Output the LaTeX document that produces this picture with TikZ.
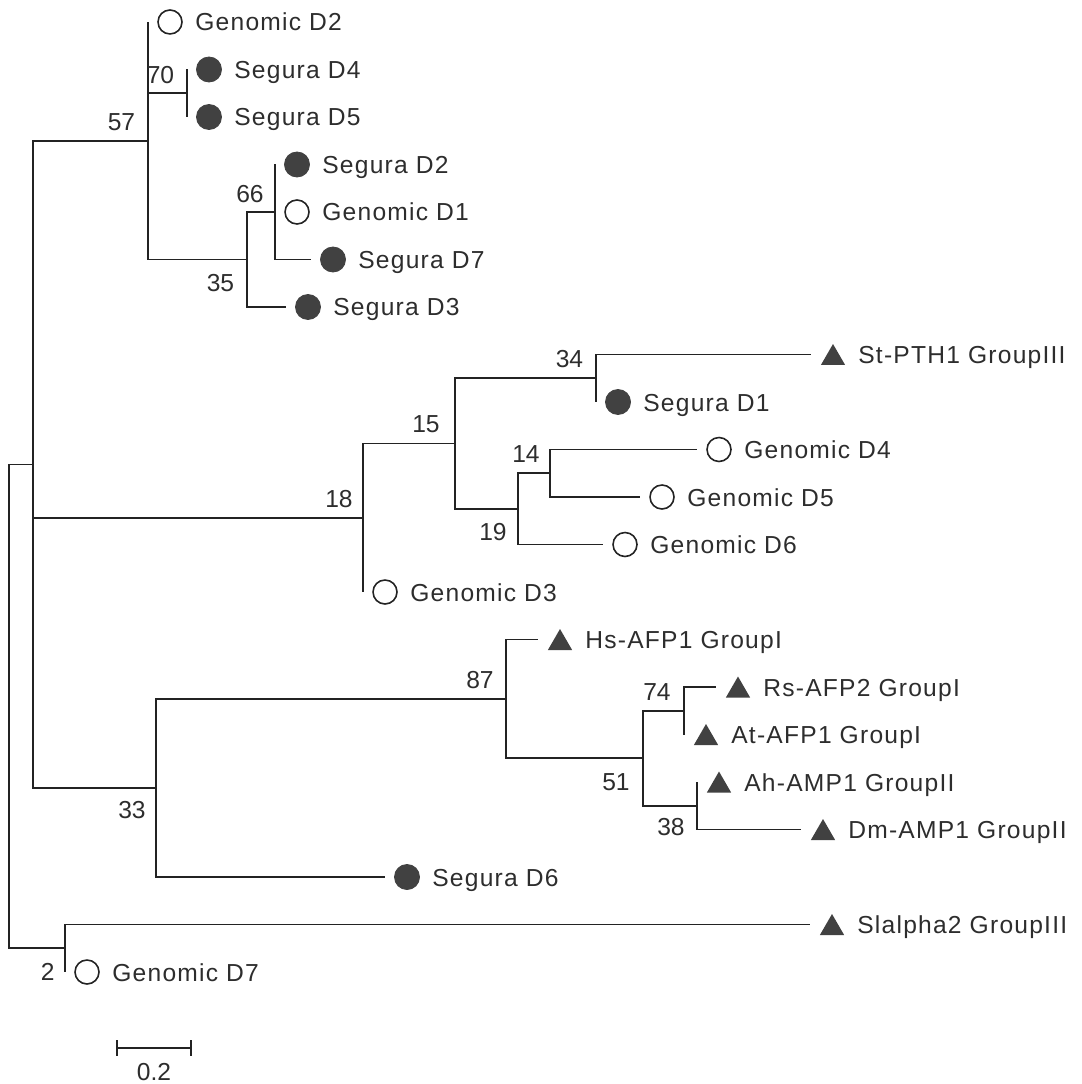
\documentclass[tikz,border=0pt]{standalone}
\usepackage{fontspec}
\setmainfont{Liberation Sans}
\newfontfamily\taxonfont{Liberation Sans}[LetterSpace=5]
\usetikzlibrary{shapes.geometric,calc,positioning}
\definecolor{branchcolor}{RGB}{35,35,35}
\definecolor{markfill}{RGB}{65,65,65}
\definecolor{labelcolor}{RGB}{45,45,45}

\begin{document}
\begin{tikzpicture}[
    x=0.02cm, y=-0.02cm,
    branch/.style={draw=branchcolor, line width=0.9pt},
    genomic/.style={circle, draw=branchcolor, fill=white, line width=0.9pt, minimum size=0.48cm, inner sep=0pt},
    segura/.style={circle, draw=markfill, fill=markfill, line width=0.5pt, minimum size=0.5cm, inner sep=0pt},
    known/.style={regular polygon, regular polygon sides=3, fill=markfill, minimum size=0.56cm, inner sep=0pt, yshift=-0.07cm},
    taxon/.style={inner sep=0pt, text height=0.36cm, text depth=0pt, text=labelcolor, font=\taxonfont\fontsize{14}{16}\selectfont},
    boot/.style={inner sep=0pt, text=labelcolor, font=\fontsize{14}{16}\selectfont}
]

% Canvas
\useasboundingbox (0,0) rectangle (1081,1084);

% 1. INTERNAL NODES
\coordinate (root) at (9,706.3);
\coordinate (nA) at (33,464.4);
\coordinate (n57) at (148,140.75);
\coordinate (n70) at (187,93.25);
\coordinate (n35) at (247,259.5);
\coordinate (n66) at (275,212);
\coordinate (n18) at (363,517.8);
\coordinate (n15) at (455,443.6);
\coordinate (n34) at (596,378.25);
\coordinate (n19) at (518,508.9);
\coordinate (n14) at (550,473.25);
\coordinate (n33) at (156,788);
\coordinate (n87) at (506,698.9);
\coordinate (n51) at (643,758.25);
\coordinate (n74) at (684,710.75);
\coordinate (n38) at (697,805.75);
\coordinate (n2) at (65,948.25);

% 2. LEAF TIPS
\coordinate (gd2) at (148,22);
\coordinate (sd4) at (187,69.5);
\coordinate (sd5) at (187,117);
\coordinate (sd2) at (275,164.5);
\coordinate (gd1) at (275,212);
\coordinate (sd7) at (311,259.5);
\coordinate (sd3) at (286,307);
\coordinate (stpth) at (811,354.5);
\coordinate (sd1) at (596,402);
\coordinate (gd4) at (697,449.5);
\coordinate (gd5) at (640,497);
\coordinate (gd6) at (603,544.5);
\coordinate (gd3) at (363,592);
\coordinate (hsafp) at (538,639.5);
\coordinate (rsafp) at (716,687);
\coordinate (atafp) at (684,734.5);
\coordinate (ahamp) at (697,782);
\coordinate (dmamp) at (801,829.5);
\coordinate (sd6) at (385,877);
\coordinate (slalpha) at (810,924.5);
\coordinate (gd7) at (65,972);

% 3. BRANCHES
% root
\draw[branch] (root) |- (nA);
\draw[branch] (root) |- (n2);

% clade 57
\draw[branch] (nA) |- (n57);
\draw[branch] (n57) |- (gd2);
\draw[branch] (n57) |- (n70);
\draw[branch] (n70) |- (sd4);
\draw[branch] (n70) |- (sd5);
\draw[branch] (n57) |- (n35);
\draw[branch] (n35) |- (n66);
\draw[branch] (n66) |- (sd2);
\draw[branch] (n66) |- (gd1);
\draw[branch] (n66) |- (sd7);
\draw[branch] (n35) |- (sd3);

% clade 18
\draw[branch] (nA) |- (n18);
\draw[branch] (n18) |- (n15);
\draw[branch] (n15) |- (n34);
\draw[branch] (n34) |- (stpth);
\draw[branch] (n34) |- (sd1);
\draw[branch] (n15) |- (n19);
\draw[branch] (n19) |- (n14);
\draw[branch] (n14) |- (gd4);
\draw[branch] (n14) |- (gd5);
\draw[branch] (n19) |- (gd6);
\draw[branch] (n18) |- (gd3);

% clade 33
\draw[branch] (nA) |- (n33);
\draw[branch] (n33) |- (n87);
\draw[branch] (n87) |- (hsafp);
\draw[branch] (n87) |- (n51);
\draw[branch] (n51) |- (n74);
\draw[branch] (n74) |- (rsafp);
\draw[branch] (n74) |- (atafp);
\draw[branch] (n51) |- (n38);
\draw[branch] (n38) |- (ahamp);
\draw[branch] (n38) |- (dmamp);
\draw[branch] (n33) |- (sd6);

% clade 2
\draw[branch] (n2) |- (slalpha);
\draw[branch] (n2) |- (gd7);

% 4. MARKERS
\node[genomic] (gd2m) at ($(gd2)+(22,0)$) {};
\node[segura] (sd4m) at ($(sd4)+(22,0)$) {};
\node[segura] (sd5m) at ($(sd5)+(22,0)$) {};
\node[segura] (sd2m) at ($(sd2)+(22,0)$) {};
\node[genomic] (gd1m) at ($(gd1)+(22,0)$) {};
\node[segura] (sd7m) at ($(sd7)+(22,0)$) {};
\node[segura] (sd3m) at ($(sd3)+(22,0)$) {};
\node[known] (stpthm) at ($(stpth)+(22,0)$) {};
\node[segura] (sd1m) at ($(sd1)+(22,0)$) {};
\node[genomic] (gd4m) at ($(gd4)+(22,0)$) {};
\node[genomic] (gd5m) at ($(gd5)+(22,0)$) {};
\node[genomic] (gd6m) at ($(gd6)+(22,0)$) {};
\node[genomic] (gd3m) at ($(gd3)+(22,0)$) {};
\node[known] (hsafpm) at ($(hsafp)+(22,0)$) {};
\node[known] (rsafpm) at ($(rsafp)+(22,0)$) {};
\node[known] (atafpm) at ($(atafp)+(22,0)$) {};
\node[known] (ahampm) at ($(ahamp)+(22,0)$) {};
\node[known] (dmampm) at ($(dmamp)+(22,0)$) {};
\node[segura] (sd6m) at ($(sd6)+(22,0)$) {};
\node[known] (slalpham) at ($(slalpha)+(22,0)$) {};
\node[genomic] (gd7m) at ($(gd7)+(22,0)$) {};

% 5. TAXON NAMES
\node[taxon, right=0.94cm of gd2] (gd2t) {Genomic D2};
\node[taxon, right=0.94cm of sd4] (sd4t) {Segura D4};
\node[taxon, right=0.94cm of sd5] (sd5t) {Segura D5};
\node[taxon, right=0.94cm of sd2] (sd2t) {Segura D2};
\node[taxon, right=0.94cm of gd1] (gd1t) {Genomic D1};
\node[taxon, right=0.94cm of sd7] (sd7t) {Segura D7};
\node[taxon, right=0.94cm of sd3] (sd3t) {Segura D3};
\node[taxon, right=0.94cm of stpth] (stptht) {St-PTH1 GroupIII};
\node[taxon, right=0.94cm of sd1] (sd1t) {Segura D1};
\node[taxon, right=0.94cm of gd4] (gd4t) {Genomic D4};
\node[taxon, right=0.94cm of gd5] (gd5t) {Genomic D5};
\node[taxon, right=0.94cm of gd6] (gd6t) {Genomic D6};
\node[taxon, right=0.94cm of gd3] (gd3t) {Genomic D3};
\node[taxon, right=0.94cm of hsafp] (hsafpt) {Hs-AFP1 GroupI};
\node[taxon, right=0.94cm of rsafp] (rsafpt) {Rs-AFP2 GroupI};
\node[taxon, right=0.94cm of atafp] (atafpt) {At-AFP1 GroupI};
\node[taxon, right=0.94cm of ahamp] (ahampt) {Ah-AMP1 GroupII};
\node[taxon, right=0.94cm of dmamp] (dmampt) {Dm-AMP1 GroupII};
\node[taxon, right=0.94cm of sd6] (sd6t) {Segura D6};
\node[taxon, right=0.94cm of slalpha] (slalphat) {Slalpha2 GroupIII};
\node[taxon, right=0.94cm of gd7] (gd7t) {Genomic D7};

% 6. BOOTSTRAP VALUES
\node[boot, above left=0.19cm and 0.25cm of n57] (b57) {57};
\node[boot, above left=0.19cm and 0.25cm of n70] (b70) {70};
\node[boot, above left=0.17cm and 0.22cm of n66] (b66) {66};
\node[boot, below left=0.28cm and 0.25cm of n35] (b35) {35};
\node[boot, above left=0.21cm and 0.25cm of n34] (b34) {34};
\node[boot, above left=0.22cm and 0.3cm of n15] (b15) {15};
\node[boot, above left=0.2cm and 0.2cm of n18] (b18) {18};
\node[boot, above left=0.2cm and 0.2cm of n14] (b14) {14};
\node[boot, below left=0.28cm and 0.22cm of n19] (b19) {19};
\node[boot, above left=0.2cm and 0.24cm of n87] (b87) {87};
\node[boot, above left=0.2cm and 0.26cm of n74] (b74) {74};
\node[boot, below left=0.3cm and 0.26cm of n51] (b51) {51};
\node[boot, below left=0.24cm and 0.24cm of n38] (b38) {38};
\node[boot, below left=0.26cm and 0.2cm of n33] (b33) {33};
\node[boot, below left=0.3cm and 0.2cm of n2] (b2) {2};

% 7. SCALE BAR
\coordinate (sbl) at (117,1048);
\coordinate (sbr) at (191,1048);
\draw[branch] (sbl) -- (sbr);
\draw[branch] (sbl) ++(0,-8) -- ++(0,16);
\draw[branch] (sbr) ++(0,-8) -- ++(0,16);
\node[boot, anchor=north] (sbt) at (154,1063) {0.2};

\end{tikzpicture}
\end{document}
